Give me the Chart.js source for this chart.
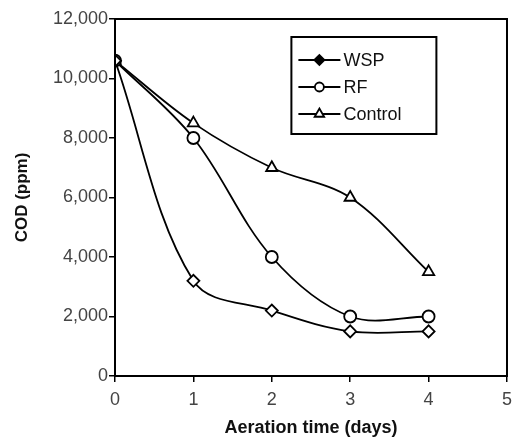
<!DOCTYPE html>
<html>
<head>
<meta charset="utf-8">
<script src="https://cdn.jsdelivr.net/npm/chart.js@4/dist/chart.umd.min.js"></script>
<style>
  html, body { margin: 0; padding: 0; background: #fff; overflow: hidden; }
  #wrap { width: 519px; height: 439px; }
</style>
</head>
<body>
<div id="wrap"><canvas id="grafico"></canvas></div>
<script>
const dias = [0, 1, 2, 3, 4];
const wsp = [10600, 3200, 2200, 1500, 1500];
const rf = [10600, 8000, 4000, 2000, 2000];
const controle = [10600, 8500, 7000, 6000, 3500];
const yTicks = [0, 2000, 4000, 6000, 8000, 10000, 12000];
const xTicks = [0, 1, 2, 3, 4, 5];

const fonte = '"Liberation Sans", Arial, sans-serif';

function pontos(valores) {
  return dias.map((d, i) => ({ x: d, y: valores[i] }));
}

function serie(label, valores, estilo, raio) {
  return {
    label,
    data: pontos(valores),
    borderColor: '#000',
    backgroundColor: '#fff',
    borderWidth: 1.8,
    tension: 0.35,
    pointStyle: estilo,
    pointRadius: raio,
    pointBorderWidth: 1.8,
    pointBackgroundColor: '#fff',
    pointBorderColor: '#000'
  };
}

// moldura em volta da area do grafico
const moldura = {
  id: 'moldura',
  afterDatasetsDraw(chart) {
    const { ctx, chartArea: a } = chart;
    ctx.save();
    ctx.strokeStyle = '#000';
    ctx.lineWidth = 2;
    ctx.strokeRect(a.left, a.top, a.right - a.left, a.bottom - a.top);
    ctx.restore();
  }
};

// legenda desenhada dentro do grafico, linha passando pelo marcador
const legenda = {
  id: 'legenda',
  afterDraw(chart) {
    const { ctx, chartArea: a } = chart;
    const w = a.right - a.left;
    const x0 = a.left + w * 0.45;
    const y0 = a.top + 18;
    const largura = 145, altura = 97;
    ctx.save();
    ctx.fillStyle = '#fff';
    ctx.fillRect(x0, y0, largura, altura);
    ctx.strokeStyle = '#000';
    ctx.lineWidth = 2;
    ctx.strokeRect(x0, y0, largura, altura);
    const itens = [
      { texto: 'WSP', estilo: 'rectRot', raio: 5, cheio: true },
      { texto: 'RF', estilo: 'circle', raio: 4.5, cheio: false },
      { texto: 'Control', estilo: 'triangle', raio: 5.5, cheio: false }
    ];
    itens.forEach((it, i) => {
      const y = y0 + 23 + i * 27;
      ctx.strokeStyle = '#000';
      ctx.lineWidth = 2;
      ctx.beginPath();
      ctx.moveTo(x0 + 7, y);
      ctx.lineTo(x0 + 49, y);
      ctx.stroke();
      ctx.fillStyle = it.cheio ? '#000' : '#fff';
      ctx.lineWidth = 1.8;
      Chart.helpers.drawPoint(ctx, { pointStyle: it.estilo, radius: it.raio, rotation: 0, borderWidth: 1.8 }, x0 + 28, y);
      ctx.fillStyle = '#111';
      ctx.font = '18px ' + fonte;
      ctx.textBaseline = 'middle';
      ctx.textAlign = 'left';
      ctx.fillText(it.texto, x0 + 52, y + 1);
    });
    ctx.restore();
  }
};

new Chart(document.getElementById('grafico'), {
  type: 'line',
  data: {
    datasets: [
      serie('WSP', wsp, 'rectRot', 6),
      serie('RF', rf, 'circle', 6),
      serie('Control', controle, 'triangle', 6.5)
    ]
  },
  options: {
    responsive: true,
    maintainAspectRatio: false,
    animation: false,
    layout: { padding: { top: 19, right: 2, left: 0, bottom: 0 } },
    plugins: {
      legend: { display: false },
      tooltip: { enabled: false }
    },
    scales: {
      x: {
        type: 'linear',
        min: 0,
        max: 5,
        afterBuildTicks: s => { s.ticks = xTicks.map(v => ({ value: v })); },
        afterFit: s => { s.height = 63; },
        border: { display: true, color: '#000', width: 2 },
        grid: { display: true, drawOnChartArea: false, color: '#000', lineWidth: 1.5, tickLength: 6 },
        ticks: { color: '#444', font: { family: fonte, size: 18 }, padding: 7, maxRotation: 0 },
        title: {
          display: true,
          text: 'Aeration time (days)',
          color: '#111',
          font: { family: fonte, size: 18, weight: 'bold' },
          padding: { top: 2, bottom: 0 }
        }
      },
      y: {
        min: 0,
        max: 12000,
        afterBuildTicks: s => { s.ticks = yTicks.map(v => ({ value: v })); },
        afterFit: s => { s.width = 115; },
        border: { display: true, color: '#000', width: 2 },
        grid: { display: true, drawOnChartArea: false, color: '#000', lineWidth: 1.5, tickLength: 6 },
        ticks: {
          color: '#444',
          font: { family: fonte, size: 18 },
          padding: 1,
          callback: v => v.toLocaleString('en-US')
        },
        title: {
          display: true,
          text: 'COD (ppm)',
          color: '#111',
          font: { family: fonte, size: 17, weight: 'bold' },
          padding: { top: 12, bottom: 4 }
        }
      }
    }
  },
  plugins: [moldura, legenda]
});
</script>
</body>
</html>
